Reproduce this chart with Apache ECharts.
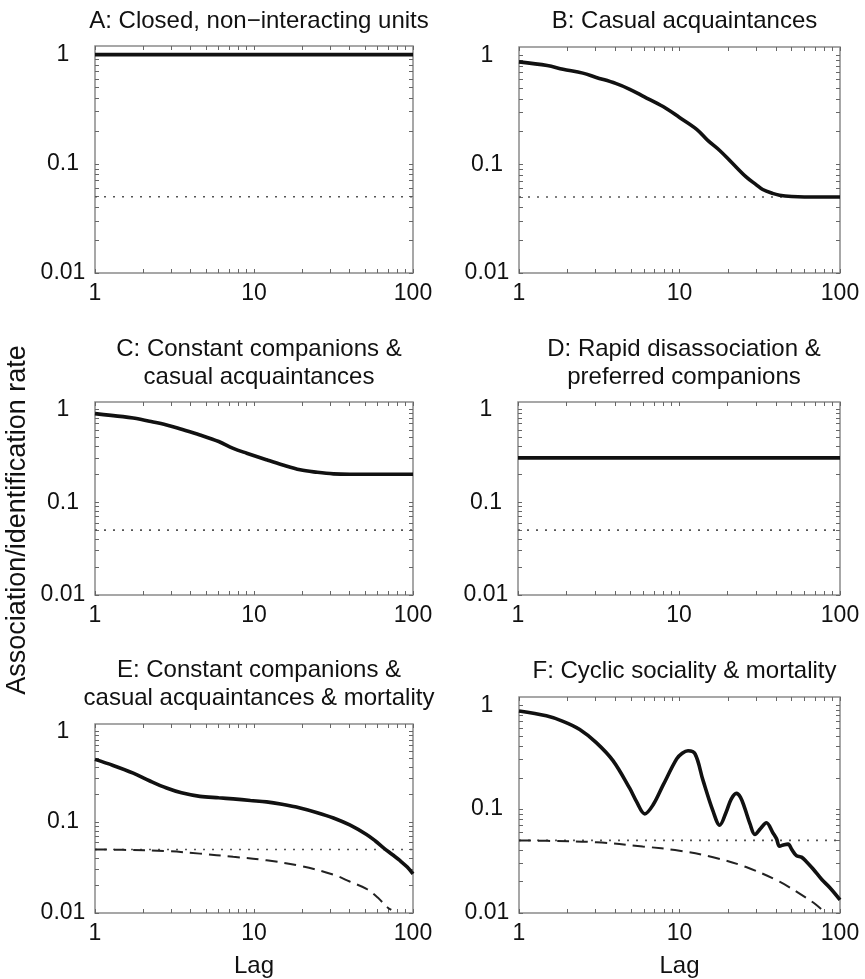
<!DOCTYPE html>
<html>
<head>
<meta charset="utf-8">
<script src="https://cdn.jsdelivr.net/npm/echarts@6/dist/echarts.min.js"></script>
<style>html,body{margin:0;padding:0;background:#fff}#c{width:865px;height:979px}</style>
</head>
<body>
<div id="c"></div>
<script>
// ---------- DATA ----------
const titles = [
  'A: Closed, non\u2212interacting units',
  'B: Casual acquaintances',
  'C: Constant companions &\ncasual acquaintances',
  'D: Rapid disassociation &\npreferred companions',
  'E: Constant companions &\ncasual acquaintances & mortality',
  'F: Cyclic sociality & mortality'
];
const yAxisTitle = 'Association/identification rate';
const xAxisTitle = 'Lag';
const xTickLabels = [1, 10, 100];
const yTickLabels = [0.01, 0.1, 1];
const xMinorTicks = [1,2,3,4,5,6,7,8,9,10,20,30,40,50,60,70,80,90,100];
const yMinorTicks = [0.01,0.02,0.03,0.04,0.05,0.06,0.07,0.08,0.09,0.1,0.2,0.3,0.4,0.5,0.6,0.7,0.8,0.9,1];

// null-association reference (dotted)
const nullLag = [1, 100];
const nullVal = [0.05, 0.05];

const lagA = [1, 100];
const valA = [1.0, 1.0];

const lagB = [1, 1.5, 1.88, 2.5, 3.03, 4, 4.9, 6, 7.9, 10, 12.8, 15, 17.8, 21, 26, 30, 33, 38, 42, 50, 60, 80, 100];
const valB = [0.875, 0.81, 0.75, 0.69, 0.63, 0.555, 0.49, 0.42, 0.34, 0.27, 0.21, 0.166, 0.134, 0.105, 0.0766, 0.065, 0.0586, 0.054, 0.052, 0.0505, 0.05, 0.05, 0.05];

const lagC = [1, 1.5, 1.74, 2.2, 2.82, 3.5, 4.57, 6, 7.4, 9, 12, 15, 19.5, 25, 31.6, 40, 50, 70, 100];
const valC = [0.90, 0.835, 0.805, 0.745, 0.68, 0.61, 0.53, 0.45, 0.38, 0.337, 0.286, 0.253, 0.223, 0.21, 0.202, 0.2, 0.2, 0.2, 0.2];

const lagD = [1, 100];
const valD = [0.3, 0.3];

const lagE = [1, 1.3, 1.74, 2.2, 2.82, 3.5, 4.57, 6, 7.4, 9.5, 12, 15, 19.5, 25, 31.6, 40, 51, 58, 65, 74, 83, 92, 100];
const valE = [0.49, 0.42, 0.345, 0.285, 0.237, 0.21, 0.192, 0.185, 0.18, 0.173, 0.167, 0.157, 0.143, 0.127, 0.111, 0.093, 0.073, 0.062, 0.0525, 0.044, 0.0376, 0.032, 0.0269];
const lagEmort = [1, 1.5, 2.82, 4.57, 7.4, 12, 19.5, 31.6, 40, 51, 60, 68, 73];
const valEmort = [0.05, 0.0495, 0.048, 0.045, 0.0415, 0.038, 0.033, 0.0264, 0.0222, 0.0184, 0.0148, 0.0118, 0.0108];

const lagF = [1, 1.48, 1.88, 2.39, 3.03, 3.85, 4.9, 5.4, 6.08, 6.85, 7.9, 9.6, 10.4, 11.3, 12.5, 14, 16.2, 17.8, 19.6, 21, 22.6, 24, 25.5, 27.5, 29.5, 32, 34.8, 38, 40.2, 42, 45, 47.5, 50, 53.5, 57.5, 62, 68, 77, 86.5, 100];
const valF = [0.88, 0.79, 0.70, 0.585, 0.437, 0.293, 0.158, 0.118, 0.090, 0.11, 0.17, 0.304, 0.345, 0.365, 0.34, 0.19, 0.095, 0.070, 0.095, 0.125, 0.1416, 0.13, 0.102, 0.072, 0.057, 0.065, 0.0738, 0.060, 0.052, 0.044, 0.0455, 0.046, 0.041, 0.0357, 0.0345, 0.031, 0.0265, 0.021, 0.0175, 0.0134];
const lagFmort = [1, 1.5, 3.03, 5.9, 10, 16.2, 26, 42, 62, 71, 80];
const valFmort = [0.05, 0.0495, 0.048, 0.0437, 0.0398, 0.0344, 0.0277, 0.02, 0.0139, 0.012, 0.0102];

// ---------- LAYOUT ----------
const grids = [
  {left: 95,  top: 46,  width: 318, height: 227},
  {left: 519, top: 47,  width: 321, height: 226},
  {left: 95,  top: 402, width: 318, height: 193},
  {left: 518, top: 402, width: 322, height: 193},
  {left: 95,  top: 724, width: 318, height: 192},
  {left: 519, top: 697, width: 321, height: 220}
];
const titleTops = [2, 2, 330, 330, 651, 652];
const FONT = "'Liberation Sans', Arial, Helvetica, sans-serif";
const TXT = '#111';

const zip = (xs, ys) => xs.map((x, i) => [x, ys[i]]);
const fmt = v => String(+(+v).toPrecision(3));

const panels = [
  {solid: [lagA, valA], smooth: 0},
  {solid: [lagB, valB], smooth: 0.35},
  {solid: [lagC, valC], smooth: 0.35},
  {solid: [lagD, valD], smooth: 0},
  {solid: [lagE, valE], dashed: [lagEmort, valEmort], smooth: 0.35},
  {solid: [lagF, valF], dashed: [lagFmort, valFmort], smooth: 0.35}
];

const option = {
  animation: false,
  backgroundColor: '#fff',
  textStyle: {fontFamily: FONT},
  title: titles.map((t, i) => ({
    text: t,
    left: grids[i].left + grids[i].width / 2,
    top: titleTops[i],
    textAlign: 'center',
    textStyle: {fontFamily: FONT, fontSize: 24, fontWeight: 'normal', color: TXT, lineHeight: 28}
  })),
  grid: grids.map(g => Object.assign({show: true, borderColor: '#8a8a8a', borderWidth: 1.5, backgroundColor: 'transparent'}, g)),
  xAxis: [],
  yAxis: [],
  series: [],
  graphic: [{
    type: 'text',
    x: 18, y: 520,
    rotation: Math.PI / 2,
    style: {text: yAxisTitle, font: '27px ' + FONT, fill: TXT, textAlign: 'center', textVerticalAlign: 'middle'}
  }]
};

const tickStyle = {show: true, inside: true, length: 4, lineStyle: {color: '#666', width: 1}};

grids.forEach((g, i) => {
  ['bottom', 'top'].forEach(pos => {
    const main = pos === 'bottom';
    option.xAxis.push({
      type: 'log', logBase: 10, gridIndex: i, position: pos, min: 1, max: 100,
      axisLine: {show: false},
      axisTick: Object.assign({customValues: xMinorTicks}, tickStyle),
      axisLabel: {show: main, customValues: xTickLabels, formatter: fmt, fontSize: 23, color: TXT, margin: 9, fontFamily: FONT},
      splitLine: {show: false},
      name: (main && i >= 4) ? xAxisTitle : '',
      nameLocation: 'middle', nameGap: 41,
      nameTextStyle: {fontSize: 24, color: TXT, fontFamily: FONT}
    });
  });
  ['left', 'right'].forEach(pos => {
    const main = pos === 'left';
    option.yAxis.push({
      type: 'log', logBase: 10, gridIndex: i, position: pos, min: 0.01, max: 1.2,
      axisLine: {show: false},
      axisTick: Object.assign({customValues: yMinorTicks}, tickStyle),
      axisLabel: {show: main, customValues: yTickLabels, formatter: fmt, fontSize: 23, color: TXT, margin: 32, align: 'center', fontFamily: FONT},
      splitLine: {show: false}
    });
  });
  const p = panels[i];
  option.series.push({
    type: 'line', xAxisIndex: 2 * i, yAxisIndex: 2 * i,
    data: zip(nullLag, nullVal), showSymbol: false, symbol: 'none',
    lineStyle: {color: '#555', width: 1.6, type: [2, 7]}, z: 2
  });
  if (p.dashed) {
    option.series.push({
      type: 'line', xAxisIndex: 2 * i, yAxisIndex: 2 * i,
      data: zip(p.dashed[0], p.dashed[1]), showSymbol: false, symbol: 'none', smooth: 0.35,
      lineStyle: {color: '#222', width: 2, type: [12, 7]}, z: 3
    });
  }
  option.series.push({
    type: 'line', xAxisIndex: 2 * i, yAxisIndex: 2 * i,
    data: zip(p.solid[0], p.solid[1]), showSymbol: false, symbol: 'none', smooth: p.smooth,
    lineStyle: {color: '#111', width: 3.6}, z: 4
  });
});

const chart = echarts.init(document.getElementById('c'), null, {renderer: 'canvas'});
chart.setOption(option);
</script>
</body>
</html>
